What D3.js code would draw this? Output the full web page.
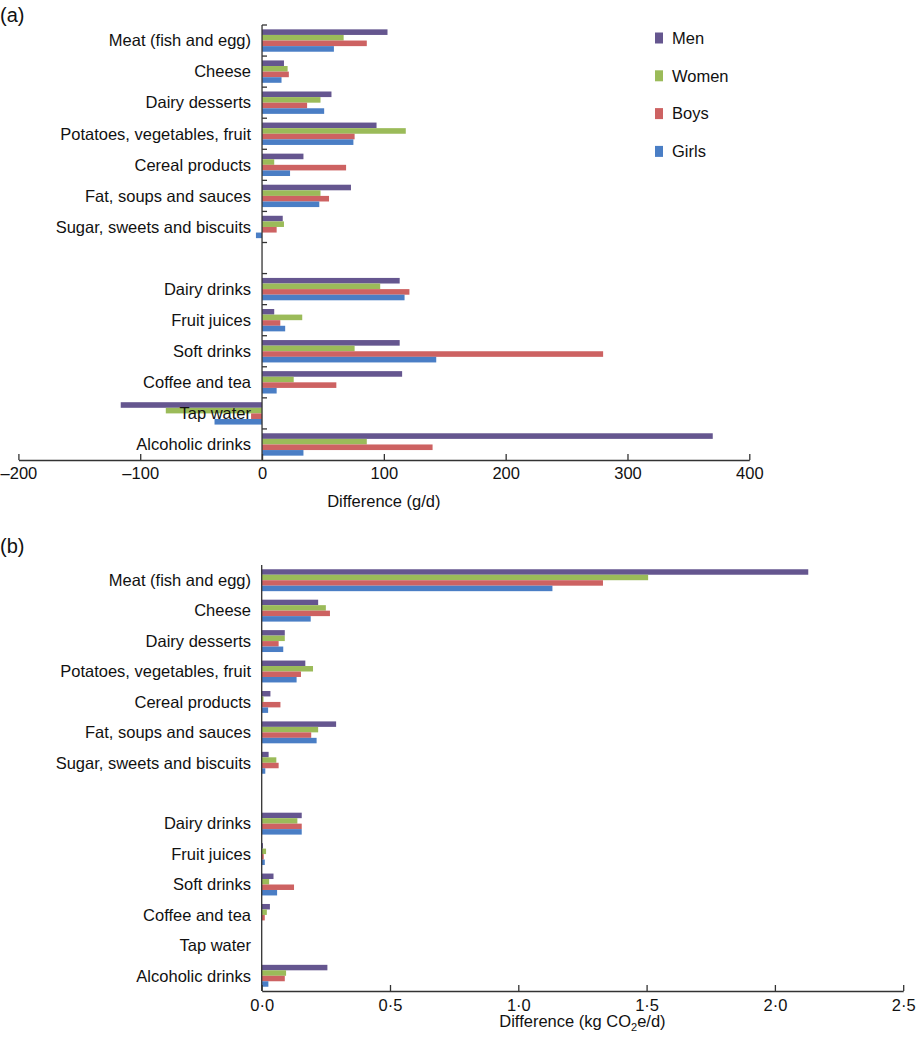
<!DOCTYPE html>
<html>
<head>
<meta charset="utf-8">
<script src="https://cdn.jsdelivr.net/npm/d3@7/dist/d3.min.js"></script>
<style>
  html, body { margin: 0; padding: 0; background: #fff; }
  svg { display: block; font-family: "Liberation Sans", Arial, Helvetica, sans-serif; }
</style>
</head>
<body>
<svg id="chart" width="919" height="1046"></svg>
<script>
// ---------- data ----------
const categories = [
  "Meat (fish and egg)", "Cheese", "Dairy desserts", "Potatoes, vegetables, fruit",
  "Cereal products", "Fat, soups and sauces", "Sugar, sweets and biscuits", "",
  "Dairy drinks", "Fruit juices", "Soft drinks", "Coffee and tea", "Tap water", "Alcoholic drinks"
];
const seriesNames = ["Men", "Women", "Boys", "Girls"];
const seriesColors = ["#65568F", "#9BBB59", "#CD6262", "#4A7EC5"];

// Panel (a): difference in g/d
const menGrams   = [103, 18, 57, 94, 34, 73, 17, null, 113, 10, 113, 115, -116, 370];
const womenGrams = [67, 21, 48, 118, 10, 48, 18, null, 97, 33, 76, 26, -79, 86];
const boysGrams  = [86, 22, 37, 76, 69, 55, 12, null, 121, 15, 280, 61, -9, 140];
const girlsGrams = [59, 16, 51, 75, 23, 47, -5, null, 117, 19, 143, 12, -39, 34];

// Panel (b): difference in kg CO2e/d
const menCO2   = [2.13, 0.22, 0.09, 0.17, 0.034, 0.29, 0.027, null, 0.156, 0.005, 0.046, 0.032, 0, 0.256];
const womenCO2 = [1.506, 0.25, 0.09, 0.20, 0.007, 0.22, 0.057, null, 0.139, 0.017, 0.029, 0.020, 0, 0.095];
const boysCO2  = [1.33, 0.266, 0.066, 0.153, 0.073, 0.193, 0.066, null, 0.156, 0.008, 0.126, 0.012, 0, 0.09];
const girlsCO2 = [1.133, 0.191, 0.084, 0.136, 0.025, 0.214, 0.014, null, 0.156, 0.012, 0.060, 0.001, 0, 0.026];

const ticksA = [-200, -100, 0, 100, 200, 300, 400];
const ticksB = [0, 0.5, 1, 1.5, 2, 2.5];

// ---------- drawing ----------
const svg = d3.select("#chart");
const axisColor = "#333";
const FS = 16.5;

function panel(opts) {
  const { seriesData, xDomain, xRange, yRange, ticks, tickFmt, catTicks, title, titleY, tickPad } = opts;
  const g = svg.append("g");
  const x = d3.scaleLinear().domain(xDomain).range(xRange);
  const y = d3.scaleBand().domain(categories).range(yRange).paddingInner(0.28).paddingOuter(0.14);
  const ySub = d3.scaleBand().domain(seriesNames).range([0, y.bandwidth()]);

  const rows = [];
  categories.forEach((c, i) => {
    seriesNames.forEach((s, j) => {
      const v = seriesData[j][i];
      if (v !== null && v !== undefined) rows.push({ c, s, v, j });
    });
  });

  g.append("g").selectAll("rect").data(rows).join("rect")
    .attr("x", d => Math.min(x(0), x(d.v)))
    .attr("width", d => Math.abs(x(d.v) - x(0)))
    .attr("y", d => y(d.c) + ySub(d.s))
    .attr("height", ySub.bandwidth())
    .attr("fill", d => seriesColors[d.j]);

  // x axis
  const xAxis = d3.axisBottom(x).tickValues(ticks).tickFormat(tickFmt)
    .tickSizeInner(-6).tickSizeOuter(0).tickPadding(tickPad);
  const xg = g.append("g").attr("transform", `translate(0,${yRange[1]})`).call(xAxis);
  xg.select(".domain").attr("stroke", axisColor).attr("stroke-width", 1.3);
  xg.selectAll(".tick line").attr("stroke", axisColor).attr("stroke-width", 1.3);
  xg.selectAll(".tick text").attr("fill", "#111").attr("font-size", FS)
    .attr("font-family", "Liberation Sans, Arial, sans-serif");

  // y axis line
  const x0 = x(0);
  g.append("line").attr("x1", x0).attr("x2", x0)
    .attr("y1", yRange[0]).attr("y2", yRange[1])
    .attr("stroke", axisColor).attr("stroke-width", 1.3);

  if (catTicks) {
    const step = y.step();
    const bounds = d3.range(categories.length).map(i => yRange[0] + i * step);
    g.append("g").selectAll("line").data(bounds).join("line")
      .attr("x1", x0).attr("x2", x0 + 5)
      .attr("y1", d => d).attr("y2", d => d)
      .attr("stroke", axisColor).attr("stroke-width", 1.3);
  }

  // category labels (on top of bars)
  g.append("g").selectAll("text").data(categories.filter(c => c !== "")).join("text")
    .attr("x", 251)
    .attr("y", d => y(d) + y.bandwidth() / 2)
    .attr("dy", "0.35em")
    .attr("text-anchor", "end")
    .attr("font-size", FS)
    .attr("fill", "#111")
    .text(d => d);

  // axis title
  const t = g.append("text")
    .attr("x", (xRange[0] + xRange[1]) / 2)
    .attr("y", titleY)
    .attr("text-anchor", "middle")
    .attr("font-size", FS)
    .attr("fill", "#111");
  title(t);
  return { x, y };
}

// Panel (a)
svg.append("text").attr("x", 0).attr("y", 22).attr("font-size", 20).attr("fill", "#111").text("(a)");
panel({
  seriesData: [menGrams, womenGrams, boysGrams, girlsGrams],
  xDomain: [-200, 400], xRange: [18.4, 749.3], yRange: [25, 460],
  ticks: ticksA, tickFmt: d => d < 0 ? "\u2013" + Math.abs(d) : String(d),
  catTicks: true, tickPad: 7, titleY: 507,
  title: t => t.text("Difference (g/d)")
});

// Legend
const legend = svg.append("g").selectAll("g").data(seriesNames).join("g")
  .attr("transform", (d, i) => `translate(655,${38 + i * 37.8})`);
legend.append("rect").attr("x", 0).attr("y", -5.5).attr("width", 8).attr("height", 11)
  .attr("fill", (d, i) => seriesColors[i]);
legend.append("text").attr("x", 17).attr("dy", "0.35em").attr("font-size", FS)
  .attr("fill", "#111").text(d => d);

// Panel (b)
svg.append("text").attr("x", 0).attr("y", 553).attr("font-size", 20).attr("fill", "#111").text("(b)");
panel({
  seriesData: [menCO2, womenCO2, boysCO2, girlsCO2],
  xDomain: [0, 2.5], xRange: [261.7, 903.2], yRange: [565, 991],
  ticks: ticksB, tickFmt: d => d3.format(".1f")(d).replace(".", "\u00B7"),
  catTicks: false, tickPad: 8, titleY: 1027,
  title: t => {
    t.append("tspan").text("Difference (kg CO");
    t.append("tspan").attr("font-size", 11).attr("dy", 4).text("2");
    t.append("tspan").attr("dy", -4).text("e/d)");
  }
});
</script>
</body>
</html>
